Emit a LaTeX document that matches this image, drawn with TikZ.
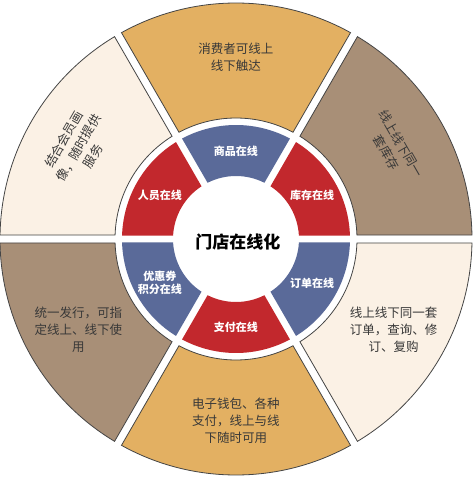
\documentclass[tikz,border=0pt]{standalone}
\usepackage{fontspec}
\setmainfont{Noto Sans CJK SC}
\definecolor{segGold}{HTML}{E3B062}
\definecolor{segTaupe}{HTML}{A88F77}
\definecolor{segCream}{HTML}{FBF1E5}
\definecolor{segBlue}{HTML}{5A6A99}
\definecolor{segRed}{HTML}{C2282D}
\definecolor{segLine}{HTML}{454545}
\definecolor{segText}{HTML}{383838}
\tikzset{
  outerseg/.style={draw=segLine, line width=0.8pt},
  outertext/.style={text=segText, align=center, font=\fontsize{12.5}{17}\selectfont},
  innertext/.style={text=white, align=center, font=\bfseries\fontsize{11}{13.5}\selectfont},
}
\begin{document}
\begin{tikzpicture}[x=1pt, y=1pt]
\fill[white] (-236,-238) rectangle (237,239);
\useasboundingbox (-236,-238) rectangle (237,239);
\pgfmathsetmacro{\go}{asin(4/236)}
\pgfmathsetmacro{\gi}{asin(4/121)}
\pgfmathsetmacro{\ho}{asin(3.5/114)}
\pgfmathsetmacro{\hi}{asin(3.5/63)}
\foreach \a/\col/\txt/\rot [count=\i] in {
    60/segGold/{消费者可线上\\线下触达}/0,
    0/segTaupe/{线上线下同一\\套库存}/-60,
    -60/segCream/{线上线下同一套\\订单，查询、修\\订、复购}/0,
    -120/segGold/{电子钱包、各种\\支付，线上与线\\下随时可用}/0,
    180/segTaupe/{统一发行，可指\\定线上、线下使\\用}/0,
    120/segCream/{结合会员画\\像，随时提供\\服务}/60}{
  \path[fill=\col, outerseg] ({\a+\go}:236) arc[start angle={\a+\go}, end angle={\a+60-\go}, radius=236]
    -- ({\a+60-\gi}:121) arc[start angle={\a+60-\gi}, end angle={\a+\gi}, radius=121] -- cycle;
  \node[outertext, rotate=\rot] (out\i) at ({\a+30}:182) {\txt};
}
\foreach \a/\col/\txt [count=\i] in {
    60/segBlue/{商品在线},
    0/segRed/{库存在线},
    -60/segBlue/{订单在线},
    -120/segRed/{支付在线},
    180/segBlue/{优惠券\\积分在线},
    120/segRed/{人员在线}}{
  \fill[\col] ({\a+\ho}:114) arc[start angle={\a+\ho}, end angle={\a+60-\ho}, radius=114]
    -- ({\a+60-\hi}:63) arc[start angle={\a+60-\hi}, end angle={\a+\hi}, radius=63] -- cycle;
  \node[innertext] (in\i) at ({\a+30}:88) {\txt};
}
\node[font=\bfseries\fontsize{17}{20}\selectfont] (hub) at (2,-3) {门店在线化};
\end{tikzpicture}
\end{document}
